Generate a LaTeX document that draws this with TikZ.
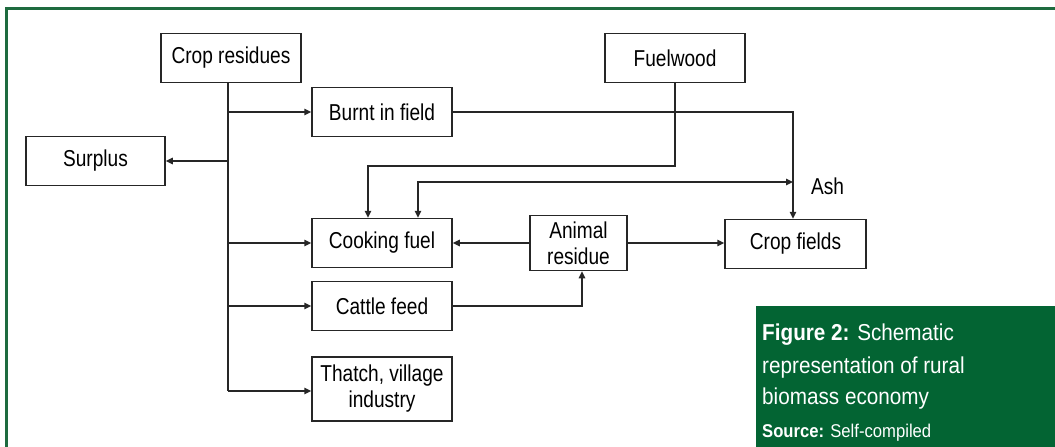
\documentclass[tikz,border=0pt]{standalone}
\usepackage{fontspec}
\setmainfont{Liberation Sans}[FakeStretch=0.83]
\newfontfamily\capfont{Liberation Sans}[FakeStretch=0.9]
\usetikzlibrary{arrows.meta}
\definecolor{frameg}{HTML}{1E6B3F}
\definecolor{capg}{HTML}{036433}
\begin{document}
\begin{tikzpicture}[x=1pt,y=-1pt,
  box/.style={draw=black!85, line width=1.5pt, minimum width=140pt, minimum height=49pt, inner sep=0pt, align=center, font=\fontsize{23}{26}\selectfont},
  conn/.style={draw=black!85, line width=1.5pt},
  arr/.style={conn, -{Triangle[length=7pt,width=6.5pt]}},
  darr/.style={conn, {Triangle[length=7pt,width=6.5pt]}-{Triangle[length=7pt,width=6.5pt]}},
  captxt/.style={anchor=base west, inner sep=0pt, text=white, font=\capfont\fontsize{23}{26}\selectfont}
]
\useasboundingbox (0,0) rectangle (1055,447);
\fill[white] (0,0) rectangle (1055,447);
% frame
\draw[frameg, line width=2.2pt] (6.5,447) -- (6.5,8.5) -- (1055,8.5);
% caption box
\fill[capg] (756,306) rectangle (1055,447);
\node[captxt] (c1) at (762,340) {\textbf{Figure 2:} Schematic};
\node[captxt] (c2) at (762,373) {representation of rural};
\node[captxt] (c3) at (762,404) {biomass economy};
\node[captxt, font=\capfont\fontsize{18.5}{21}\selectfont] (c4) at (762,437) {\textbf{Source:} Self-compiled};
% nodes
\node[box] (cr) at (231,58) {Crop residues};
\node[box] (fw) at (675,58) {Fuelwood};
\node[box] (burnt) at (382,112) {Burnt in field};
\node[box, minimum width=139pt] (surplus) at (95.5,161) {Surplus};
\node[box] (cook) at (382,243) {Cooking fuel};
\node[box, minimum width=97pt, minimum height=55pt] (anim) at (578.5,243) {Animal\\residue};
\node[box, minimum width=141pt] (crop) at (795.5,244) {Crop fields};
\node[box] (cattle) at (382,306) {Cattle feed};
\node[box, minimum height=64pt] (thatch) at (382,389) {Thatch, village\\industry};
\node[inner sep=0pt, anchor=west, font=\fontsize{23}{26}\selectfont] (ash) at (811,186) {Ash};
% coordinates
\coordinate (tb) at (228,391);
\coordinate (f1) at (368,166);
\coordinate (a1) at (418,182);
\coordinate (ax) at (793,182);
\coordinate (cf) at (582,306);
% trunk
\draw[conn] (tb |- cr.south) -- (tb);
\draw[arr] (tb) -- (thatch.west |- tb);
\draw[arr] (tb |- burnt.west) -- (burnt.west);
\draw[arr] (tb |- surplus.east) -- (surplus.east);
\draw[arr] (tb |- cook.west) -- (cook.west);
\draw[arr] (tb |- cattle.west) -- (cattle.west);
% burnt to crop fields
\draw[arr] (burnt.east) -| (ax |- crop.north);
% fuelwood
\draw[arr] (fw.south) |- (f1) -- (f1 |- cook.north);
% ash double arrow
\draw[darr] (a1 |- cook.north) -- (a1) -- (ax);
% animal residue
\draw[arr] (anim.west) -- (cook.east);
\draw[arr] (anim.east) -- (crop.west |- anim.east);
\draw[arr] (cattle.east) -- (cf) -- (cf |- anim.south);
\end{tikzpicture}
\end{document}
